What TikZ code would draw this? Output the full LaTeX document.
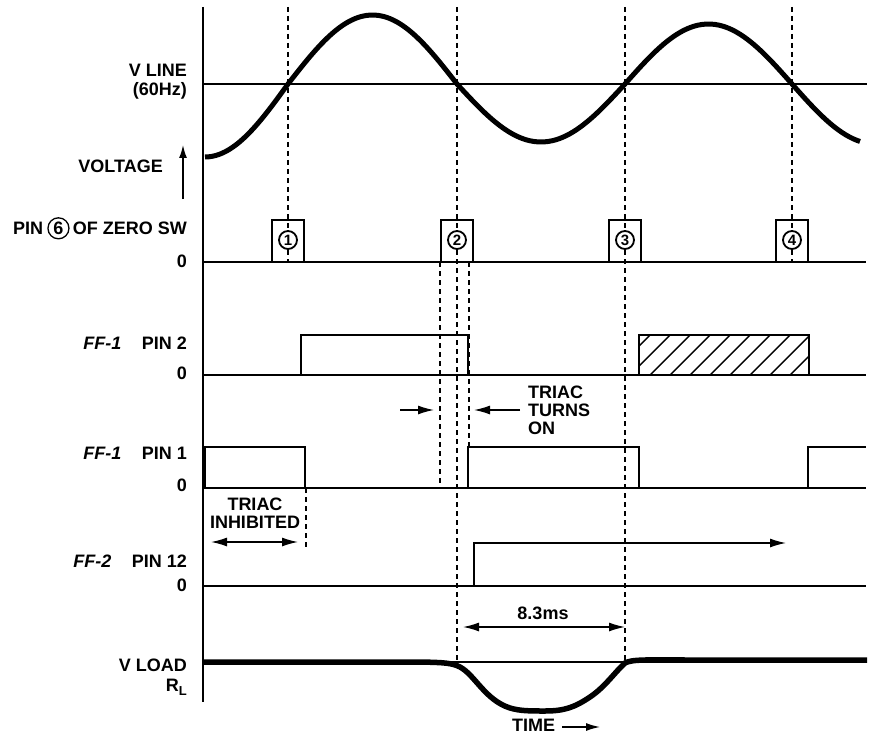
\documentclass[tikz,border=0pt]{standalone}
\usepackage{fontspec}
\setmainfont{Liberation Sans}
\usetikzlibrary{arrows.meta,positioning}
\begin{document}
\begin{tikzpicture}[x=1pt,y=-1pt,
 lbl/.style={font=\fontsize{18}{20}\selectfont\bfseries, inner sep=0pt},
 dsh/.style={line width=1.3pt, dash pattern=on 5pt off 4pt},
 baseln/.style={line width=2.4pt},
 puls/.style={line width=2.3pt, line join=miter},
 wave/.style={line width=5pt, line join=round},
 thinarr/.style={line width=1.4pt},
 tipr/.style={-{Latex[length=16pt,width=9pt]}},
 tipb/.style={{Latex[length=16pt,width=9pt]}-{Latex[length=16pt,width=9pt]}},
 cnum/.style={circle, draw, line width=1.8pt, fill=white, minimum size=18pt, inner sep=0pt, font=\fontsize{15}{15}\selectfont\bfseries}
]
\useasboundingbox (0,0) rectangle (870,741);

% dashed guide lines
\draw[dsh] (288,7) -- (288,262);
\draw[dsh] (457,7) -- (457,665);
\draw[dsh] (625,7) -- (625,665);
\draw[dsh] (792,7) -- (792,262);
\draw[dsh] (440,262) -- (440,488);
\draw[dsh] (469,262) -- (469,447);
\draw[dsh] (306,488) -- (306,549);

% axis
\draw[line width=2.5pt] (203,7) -- (203,702);

% V LINE
\draw[line width=2pt] (203,84) -- (867,84);
\draw[wave] plot[domain=205:288, samples=25, smooth] (\x, {84+73*cos((\x-205)/83*90)})
  -- plot[domain=288:457, samples=40, smooth] (\x, {84-69*sin((\x-288)/169*180)})
  -- plot[domain=457:625, samples=40, smooth] (\x, {84+58*sin((\x-457)/168*180)})
  -- plot[domain=625:792, samples=40, smooth] (\x, {84-60*sin((\x-625)/167*180)})
  -- plot[domain=792:860, samples=20, smooth] (\x, {84+60*sin((\x-792)/167*180)});

% baselines
\draw[baseln] (203,262) -- (866,262);
\draw[baseln] (203,375) -- (866,375);
\draw[baseln] (203,488) -- (866,488);
\draw[baseln] (203,586) -- (866,586);
\draw[line width=1.8pt] (203,662) -- (866,662);

% zero switch pulses
\foreach \px/\n in {288/1,457/2,625/3,792/4}{
  \draw[puls] ({\px-16},262) -- ({\px-16},220) -- ({\px+16},220) -- ({\px+16},262);
  \node[cnum] (num\n) at (\px,240) {\n};
}

% FF-1 PIN 2
\draw[puls] (301,375) -- (301,335) -- (468,335) -- (468,375);
\begin{scope}
  \clip (639,375) rectangle (809,335);
  \foreach \k in {0,...,11}
    \draw[line width=1.4pt] ({600+20*\k},385) -- ({660+20*\k},325);
\end{scope}
\draw[puls] (639,375) -- (639,335) -- (809,335) -- (809,375);

% FF-1 PIN 1
\draw[puls] (205,488) -- (205,447) -- (305,447) -- (305,488);
\draw[puls] (468,488) -- (468,447) -- (639,447) -- (639,488);
\draw[puls] (808,488) -- (808,447) -- (866,447);

% FF-2 PIN 12
\draw[thinarr, -{Latex[length=16pt,width=9pt]}] (474,586) -- (474,543) -- (786,543);

% V LOAD
\draw[line width=5.5pt, line join=round]
  (203,662) -- (420,662) .. controls (445,662.5) and (452,663) .. (460,667)
  .. controls (475,675) and (485,700) .. (510,708)
  .. controls (520,711) and (530,711) .. (545,711)
  .. controls (565,711) and (575,707) .. (590,697)
  .. controls (605,687) and (615,672) .. (625,663)
  .. controls (632,659) and (650,660) .. (690,660) -- (867,660);

% arrows
\draw[line width=1.6pt, -{Latex[length=13pt,width=8pt]}] (183,199) -- (183,145);
\draw[thinarr, tipr] (400,410) -- (434,410);
\draw[thinarr, tipr] (520,410) -- (474,410);
\draw[thinarr, tipb] (211,542) -- (298,542);
\draw[thinarr, tipb] (463,627) -- (625,627);
\draw[thinarr, -{Latex[length=14pt,width=8pt]}] (562,727) -- (600,727);

% left labels
\node[lbl, anchor=base east] (vline) at (187,76.5) {V LINE};
\node[lbl, anchor=base east] (hz) at (187,95.5) {(60Hz)};
\node[lbl, anchor=base east] (volt) at (163,172.5) {VOLTAGE};
\node[lbl, anchor=base east] (zsw) at (187,234.5) {OF ZERO SW};
\node[circle, draw, line width=1.3pt, inner sep=0pt, minimum size=21pt,
      font=\fontsize{18}{18}\selectfont\bfseries, anchor=east] (c6) at ([xshift=-3pt]zsw.west) {6};
\node[lbl, anchor=east] (pinl) at ([xshift=-4pt]c6.west) {PIN};
\node[lbl, anchor=base east] (z1) at (187,267.5) {0};

\node[lbl, anchor=base east] (p2) at (187,349.5) {PIN 2};
\node[lbl, anchor=base east] (ff1a) at ([xshift=-20pt]p2.base west) {\itshape FF-1};
\node[lbl, anchor=base east] (z2) at (187,379.5) {0};

\node[lbl, anchor=base east] (p1) at (187,459.5) {PIN 1};
\node[lbl, anchor=base east] (ff1b) at ([xshift=-20pt]p1.base west) {\itshape FF-1};
\node[lbl, anchor=base east] (z3) at (187,491.5) {0};

\node[lbl, anchor=base east] (p12) at (187,567.5) {PIN 12};
\node[lbl, anchor=base east] (ff2) at ([xshift=-20pt]p12.base west) {\itshape FF-2};
\node[lbl, anchor=base east] (z4) at (187,591.5) {0};

\node[lbl, anchor=base east] (vload) at (187,671.5) {V LOAD};
\node[lbl, anchor=base east] (rl) at (187,691.5) {R\raisebox{-4pt}{\fontsize{13}{12}\selectfont L}};

% in-plot labels
\node[lbl, anchor=base west] (t1) at (528,398.5) {TRIAC};
\node[lbl, anchor=base west] (t2) at (528,416.5) {TURNS};
\node[lbl, anchor=base west] (t3) at (528,434.5) {ON};
\node[lbl, anchor=base] (i1) at (255,510.5) {TRIAC};
\node[lbl, anchor=base] (i2) at (255,528.5) {INHIBITED};
\node[lbl, anchor=base] (ms) at (543,619.5) {8.3ms};
\node[lbl, anchor=base west] (time) at (512,731.5) {TIME};
\end{tikzpicture}
\end{document}
